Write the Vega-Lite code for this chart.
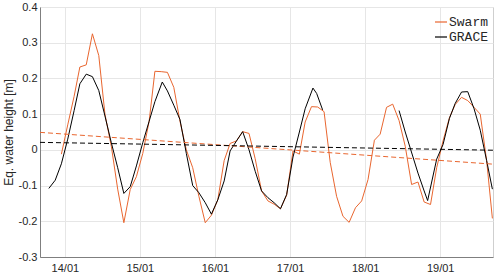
{
  "$schema": "https://vega.github.io/schema/vega-lite/v6.json",
  "width": 453,
  "height": 250,
  "autosize": {"type": "none"},
  "padding": {"left": 40, "top": 7, "right": 7, "bottom": 19},
  "background": "white",
  "config": {
    "font": "Liberation Sans",
    "view": {"stroke": "#cfcfcf", "strokeWidth": 1},
    "axis": {
      "labelFont": "Liberation Sans",
      "labelFontSize": 11,
      "labelColor": "#262626",
      "titleFont": "Liberation Sans",
      "titleColor": "#262626",
      "titleFontWeight": "normal",
      "domainColor": "#7f7f7f",
      "domainWidth": 1,
      "gridColor": "#e6e6e6",
      "gridWidth": 1,
      "ticks": false
    }
  },
  "data": {
    "values": [
      {"d": "2013-12-15", "v": -0.012, "s": "Swarm", "k": "s"},
      {"d": "2014-01-15", "v": 0.07, "s": "Swarm", "k": "s"},
      {"d": "2014-02-15", "v": 0.15, "s": "Swarm", "k": "s"},
      {"d": "2014-03-15", "v": 0.232, "s": "Swarm", "k": "s"},
      {"d": "2014-04-15", "v": 0.238, "s": "Swarm", "k": "s"},
      {"d": "2014-05-15", "v": 0.325, "s": "Swarm", "k": "s"},
      {"d": "2014-06-15", "v": 0.264, "s": "Swarm", "k": "s"},
      {"d": "2014-07-15", "v": 0.1, "s": "Swarm", "k": "s"},
      {"d": "2014-08-15", "v": 0.01, "s": "Swarm", "k": "s"},
      {"d": "2014-09-15", "v": -0.11, "s": "Swarm", "k": "s"},
      {"d": "2014-10-15", "v": -0.204, "s": "Swarm", "k": "s"},
      {"d": "2014-11-15", "v": -0.111, "s": "Swarm", "k": "s"},
      {"d": "2014-12-15", "v": -0.075, "s": "Swarm", "k": "s"},
      {"d": "2015-01-15", "v": -0.01, "s": "Swarm", "k": "s"},
      {"d": "2015-02-15", "v": 0.08, "s": "Swarm", "k": "s"},
      {"d": "2015-03-15", "v": 0.22, "s": "Swarm", "k": "s"},
      {"d": "2015-04-15", "v": 0.219, "s": "Swarm", "k": "s"},
      {"d": "2015-05-15", "v": 0.217, "s": "Swarm", "k": "s"},
      {"d": "2015-06-15", "v": 0.175, "s": "Swarm", "k": "s"},
      {"d": "2015-07-15", "v": 0.08, "s": "Swarm", "k": "s"},
      {"d": "2015-08-15", "v": 0.0, "s": "Swarm", "k": "s"},
      {"d": "2015-09-15", "v": -0.05, "s": "Swarm", "k": "s"},
      {"d": "2015-10-15", "v": -0.13, "s": "Swarm", "k": "s"},
      {"d": "2015-11-15", "v": -0.204, "s": "Swarm", "k": "s"},
      {"d": "2015-12-15", "v": -0.183, "s": "Swarm", "k": "s"},
      {"d": "2016-01-15", "v": -0.14, "s": "Swarm", "k": "s"},
      {"d": "2016-02-15", "v": -0.03, "s": "Swarm", "k": "s"},
      {"d": "2016-03-15", "v": 0.018, "s": "Swarm", "k": "s"},
      {"d": "2016-04-15", "v": 0.025, "s": "Swarm", "k": "s"},
      {"d": "2016-05-15", "v": 0.051, "s": "Swarm", "k": "s"},
      {"d": "2016-06-15", "v": 0.046, "s": "Swarm", "k": "s"},
      {"d": "2016-07-15", "v": -0.025, "s": "Swarm", "k": "s"},
      {"d": "2016-08-15", "v": -0.115, "s": "Swarm", "k": "s"},
      {"d": "2016-09-15", "v": -0.143, "s": "Swarm", "k": "s"},
      {"d": "2016-10-15", "v": -0.152, "s": "Swarm", "k": "s"},
      {"d": "2016-11-15", "v": -0.165, "s": "Swarm", "k": "s"},
      {"d": "2016-12-15", "v": -0.127, "s": "Swarm", "k": "s"},
      {"d": "2017-01-15", "v": -0.003, "s": "Swarm", "k": "s"},
      {"d": "2017-02-15", "v": -0.012, "s": "Swarm", "k": "s"},
      {"d": "2017-03-15", "v": 0.078, "s": "Swarm", "k": "s"},
      {"d": "2017-04-15", "v": 0.121, "s": "Swarm", "k": "s"},
      {"d": "2017-05-15", "v": 0.12, "s": "Swarm", "k": "s"},
      {"d": "2017-06-15", "v": 0.107, "s": "Swarm", "k": "s"},
      {"d": "2017-07-15", "v": -0.035, "s": "Swarm", "k": "s"},
      {"d": "2017-08-15", "v": -0.13, "s": "Swarm", "k": "s"},
      {"d": "2017-09-15", "v": -0.186, "s": "Swarm", "k": "s"},
      {"d": "2017-10-15", "v": -0.203, "s": "Swarm", "k": "s"},
      {"d": "2017-11-15", "v": -0.162, "s": "Swarm", "k": "s"},
      {"d": "2017-12-15", "v": -0.143, "s": "Swarm", "k": "s"},
      {"d": "2018-01-15", "v": -0.083, "s": "Swarm", "k": "s"},
      {"d": "2018-02-15", "v": 0.027, "s": "Swarm", "k": "s"},
      {"d": "2018-03-15", "v": 0.044, "s": "Swarm", "k": "s"},
      {"d": "2018-04-15", "v": 0.119, "s": "Swarm", "k": "s"},
      {"d": "2018-05-15", "v": 0.128, "s": "Swarm", "k": "s"},
      {"d": "2018-06-15", "v": 0.082, "s": "Swarm", "k": "s"},
      {"d": "2018-07-15", "v": 0.01, "s": "Swarm", "k": "s"},
      {"d": "2018-08-15", "v": -0.097, "s": "Swarm", "k": "s"},
      {"d": "2018-09-15", "v": -0.09, "s": "Swarm", "k": "s"},
      {"d": "2018-10-15", "v": -0.146, "s": "Swarm", "k": "s"},
      {"d": "2018-11-15", "v": -0.153, "s": "Swarm", "k": "s"},
      {"d": "2018-12-15", "v": -0.05, "s": "Swarm", "k": "s"},
      {"d": "2019-01-15", "v": 0.025, "s": "Swarm", "k": "s"},
      {"d": "2019-02-15", "v": 0.09, "s": "Swarm", "k": "s"},
      {"d": "2019-03-15", "v": 0.127, "s": "Swarm", "k": "s"},
      {"d": "2019-04-15", "v": 0.147, "s": "Swarm", "k": "s"},
      {"d": "2019-05-15", "v": 0.138, "s": "Swarm", "k": "s"},
      {"d": "2019-06-15", "v": 0.119, "s": "Swarm", "k": "s"},
      {"d": "2019-07-15", "v": 0.1, "s": "Swarm", "k": "s"},
      {"d": "2019-08-15", "v": -0.03, "s": "Swarm", "k": "s"},
      {"d": "2019-09-12", "v": -0.192, "s": "Swarm", "k": "s"},

      {"d": "2013-10-15", "v": -0.108, "s": "GRACE", "k": "g1"},
      {"d": "2013-11-15", "v": -0.085, "s": "GRACE", "k": "g1"},
      {"d": "2013-12-15", "v": -0.039, "s": "GRACE", "k": "g1"},
      {"d": "2014-01-15", "v": 0.03, "s": "GRACE", "k": "g1"},
      {"d": "2014-02-15", "v": 0.11, "s": "GRACE", "k": "g1"},
      {"d": "2014-03-15", "v": 0.185, "s": "GRACE", "k": "g1"},
      {"d": "2014-04-15", "v": 0.212, "s": "GRACE", "k": "g1"},
      {"d": "2014-05-15", "v": 0.205, "s": "GRACE", "k": "g1"},
      {"d": "2014-06-15", "v": 0.166, "s": "GRACE", "k": "g1"},
      {"d": "2014-07-15", "v": 0.095, "s": "GRACE", "k": "g1"},
      {"d": "2014-08-15", "v": 0.02, "s": "GRACE", "k": "g1"},
      {"d": "2014-09-15", "v": -0.05, "s": "GRACE", "k": "g1"},
      {"d": "2014-10-15", "v": -0.122, "s": "GRACE", "k": "g1"},
      {"d": "2014-11-15", "v": -0.103, "s": "GRACE", "k": "g1"},
      {"d": "2014-12-15", "v": -0.045, "s": "GRACE", "k": "g1"},
      {"d": "2015-01-15", "v": 0.02, "s": "GRACE", "k": "g1"},
      {"d": "2015-02-15", "v": 0.08, "s": "GRACE", "k": "g1"},
      {"d": "2015-03-15", "v": 0.135, "s": "GRACE", "k": "g1"},
      {"d": "2015-04-20", "v": 0.19, "s": "GRACE", "k": "g1"},
      {"d": "2015-05-15", "v": 0.165, "s": "GRACE", "k": "g1"},
      {"d": "2015-06-15", "v": 0.125, "s": "GRACE", "k": "g1"},
      {"d": "2015-07-15", "v": 0.085, "s": "GRACE", "k": "g1"},
      {"d": "2015-08-15", "v": -0.01, "s": "GRACE", "k": "g1"},
      {"d": "2015-09-15", "v": -0.1, "s": "GRACE", "k": "g1"},
      {"d": "2015-10-15", "v": -0.12, "s": "GRACE", "k": "g1"},
      {"d": "2015-11-15", "v": -0.148, "s": "GRACE", "k": "g1"},
      {"d": "2015-12-15", "v": -0.18, "s": "GRACE", "k": "g1"},
      {"d": "2016-01-15", "v": -0.14, "s": "GRACE", "k": "g1"},
      {"d": "2016-02-15", "v": -0.087, "s": "GRACE", "k": "g1"},
      {"d": "2016-03-15", "v": -0.003, "s": "GRACE", "k": "g1"},
      {"d": "2016-04-15", "v": 0.025, "s": "GRACE", "k": "g1"},
      {"d": "2016-05-15", "v": 0.051, "s": "GRACE", "k": "g1"},
      {"d": "2016-06-15", "v": 0.0, "s": "GRACE", "k": "g1"},
      {"d": "2016-07-15", "v": -0.06, "s": "GRACE", "k": "g1"},
      {"d": "2016-08-15", "v": -0.115, "s": "GRACE", "k": "g1"},
      {"d": "2016-09-15", "v": -0.134, "s": "GRACE", "k": "g1"},
      {"d": "2016-10-15", "v": -0.148, "s": "GRACE", "k": "g1"},
      {"d": "2016-11-15", "v": -0.165, "s": "GRACE", "k": "g1"},
      {"d": "2016-12-15", "v": -0.125, "s": "GRACE", "k": "g1"},
      {"d": "2017-01-15", "v": -0.02, "s": "GRACE", "k": "g1"},
      {"d": "2017-02-15", "v": 0.05, "s": "GRACE", "k": "g1"},
      {"d": "2017-03-15", "v": 0.115, "s": "GRACE", "k": "g1"},
      {"d": "2017-04-22", "v": 0.173, "s": "GRACE", "k": "g1"},
      {"d": "2017-05-10", "v": 0.158, "s": "GRACE", "k": "g1"},
      {"d": "2017-06-08", "v": 0.112, "s": "GRACE", "k": "g1"},

      {"d": "2018-06-15", "v": 0.11, "s": "GRACE", "k": "g2"},
      {"d": "2018-07-15", "v": 0.05, "s": "GRACE", "k": "g2"},
      {"d": "2018-09-15", "v": -0.065, "s": "GRACE", "k": "g2"},
      {"d": "2018-10-15", "v": -0.115, "s": "GRACE", "k": "g2"},
      {"d": "2018-11-01", "v": -0.142, "s": "GRACE", "k": "g2"},
      {"d": "2018-12-15", "v": -0.026, "s": "GRACE", "k": "g2"},
      {"d": "2019-01-15", "v": 0.015, "s": "GRACE", "k": "g2"},
      {"d": "2019-02-15", "v": 0.088, "s": "GRACE", "k": "g2"},
      {"d": "2019-03-15", "v": 0.13, "s": "GRACE", "k": "g2"},
      {"d": "2019-04-15", "v": 0.162, "s": "GRACE", "k": "g2"},
      {"d": "2019-05-15", "v": 0.163, "s": "GRACE", "k": "g2"},
      {"d": "2019-06-15", "v": 0.115, "s": "GRACE", "k": "g2"},
      {"d": "2019-07-15", "v": 0.055, "s": "GRACE", "k": "g2"},
      {"d": "2019-08-15", "v": -0.03, "s": "GRACE", "k": "g2"},
      {"d": "2019-09-12", "v": -0.11, "s": "GRACE", "k": "g2"},

      {"d": "2013-09-02", "v": 0.049, "s": "Swarm trend", "k": "ts"},
      {"d": "2019-09-15", "v": -0.04, "s": "Swarm trend", "k": "ts"},
      {"d": "2013-09-02", "v": 0.021, "s": "GRACE trend", "k": "tg"},
      {"d": "2019-09-15", "v": -0.001, "s": "GRACE trend", "k": "tg"}
    ]
  },
  "encoding": {
    "x": {
      "field": "d",
      "type": "temporal",
      "scale": {"domain": [{"year": 2013, "month": 9, "date": 2}, {"year": 2019, "month": 9, "date": 15}]},
      "axis": {
        "title": null,
        "format": "%y/%m",
        "values": [
          {"year": 2014, "month": 1, "date": 1},
          {"year": 2015, "month": 1, "date": 1},
          {"year": 2016, "month": 1, "date": 1},
          {"year": 2017, "month": 1, "date": 1},
          {"year": 2018, "month": 1, "date": 1},
          {"year": 2019, "month": 1, "date": 1}
        ],
        "grid": true,
        "labelPadding": 5,
        "labelFlush": false
      }
    },
    "y": {
      "field": "v",
      "type": "quantitative",
      "scale": {"domain": [-0.3, 0.4], "nice": false, "zero": false},
      "axis": {
        "title": "Eq. water height [m]",
        "titleFontSize": 12,
        "titleX": -32,
        "titleBaseline": "middle",
        "values": [-0.3, -0.2, -0.1, 0, 0.1, 0.2, 0.3, 0.4],
        "labelExpr": "datum.value == 0 ? '0' : toString(round(datum.value * 10) / 10)",
        "grid": true,
        "labelPadding": 3
      }
    }
  },
  "layer": [
    {
      "transform": [{"filter": "datum.s == 'Swarm' || datum.s == 'GRACE'"}],
      "mark": {"type": "line", "strokeWidth": 1, "clip": true},
      "encoding": {
        "color": {
          "field": "s",
          "type": "nominal",
          "scale": {"domain": ["Swarm", "GRACE"], "range": ["#E9662F", "#000000"]},
          "legend": {
            "title": null,
            "orient": "none",
            "legendX": 394,
            "legendY": 8,
            "symbolType": "stroke",
            "symbolSize": 144,
            "symbolStrokeWidth": 1.2,
            "labelFont": "Liberation Mono",
            "labelFontSize": 13,
            "labelColor": "#262626",
            "labelOffset": 1,
            "rowPadding": 1,
            "padding": 0
          }
        },
        "detail": {"field": "k"}
      }
    },
    {
      "transform": [{"filter": "datum.s == 'Swarm trend'"}],
      "mark": {"type": "line", "strokeWidth": 1, "strokeDash": [5, 3], "color": "#E9662F", "clip": true},
      "encoding": {}
    },
    {
      "transform": [{"filter": "datum.s == 'GRACE trend'"}],
      "mark": {"type": "line", "strokeWidth": 1, "strokeDash": [5, 3], "color": "#000000", "clip": true},
      "encoding": {}
    }
  ]
}
